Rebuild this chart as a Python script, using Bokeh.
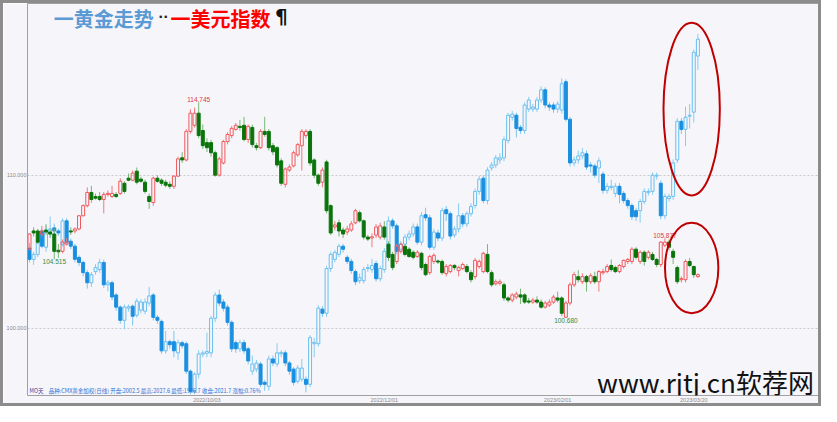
from bokeh.plotting import figure
from bokeh.models import Range1d, FixedTicker, Label, ColumnDataSource
from bokeh.embed import file_html
from bokeh.resources import INLINE
from bokeh.core.properties import value

# ---------------- data: US dollar index (daily OHLC) ----------------
usd_open = [105.17,106.36,106.36,106.16,106.42,106.29,106.16,105.10,105.03,105.50,
            106.36,106.36,106.49,107.35,108.01,108.87,108.60,108.61,108.41,108.74,
            108.61,108.74,108.81,109.47,109.80,109.67,110.26,109.74,109.54,108.61,
            108.21,109.80,109.67,109.54,109.40,109.27,109.93,111.13,110.99,112.85,
            113.25,114.04,112.91,112.12,112.12,111.46,110.00,110.79,112.19,112.58,
            112.98,113.18,113.25,112.32,113.11,111.92,111.79,112.85,112.85,111.92,
            111.79,110.93,109.40,110.33,110.60,111.32,111.92,112.58,112.85,110.99,
            110.00,109.54,110.86,108.01,106.62,106.89,106.42,106.29,106.42,106.89,
            107.55,107.02,105.96,105.90,106.09,105.96,106.62,105.50,104.83,104.37,
            105.03,105.36,105.17,104.97,104.70,104.90,104.17,103.64,104.37,104.40,
            104.37,103.58,103.71,104.11,103.77,103.91,104.04,103.64,103.38,104.04,
            103.71,104.83,103.64,102.91,102.95,102.85,101.99,101.85,102.05,102.19,
            102.19,101.79,101.72,101.85,101.72,101.39,101.52,101.72,101.99,101.99,
            100.73,101.66,102.85,103.38,103.05,103.38,103.05,103.38,103.05,103.64,
            103.71,104.11,103.97,103.71,104.04,104.37,104.37,105.17,104.37,104.97,
            104.64,104.83,104.50,104.17,105.43,105.63,105.03,103.97,103.18,103.18,
            104.37,104.04,103.38]
usd_high = [106.20,106.60,106.50,106.70,106.80,106.50,106.50,105.50,105.80,105.90,
            106.60,106.60,107.40,108.10,109.20,109.30,108.80,108.90,108.90,109.00,
            109.30,108.90,109.80,109.60,110.10,110.30,110.50,109.90,109.70,108.80,
            109.90,110.00,109.80,109.70,109.60,110.00,111.20,111.50,113.00,114.30,
            114.40,114.745,113.30,112.40,112.30,111.60,111.20,112.30,112.80,113.20,
            113.40,113.60,113.80,113.30,113.30,112.10,113.00,113.80,113.00,112.10,
            111.90,111.10,110.50,110.70,111.60,112.10,113.00,113.00,113.00,111.10,
            110.10,110.50,111.00,108.10,107.00,107.10,106.60,106.70,107.00,107.80,
            107.70,107.10,106.10,106.20,106.80,106.90,107.00,105.70,105.00,105.50,
            105.60,105.50,105.30,105.10,105.10,105.00,104.30,104.80,104.90,104.50,
            104.50,104.20,104.20,104.20,104.10,104.30,104.20,103.80,104.60,104.50,
            105.00,105.50,103.80,103.20,103.20,103.00,102.10,102.30,102.40,102.60,
            102.30,102.00,102.00,102.10,101.90,101.80,101.90,102.20,102.40,102.10,
            101.80,103.00,103.70,103.80,103.60,103.50,103.60,103.70,103.80,103.90,
            104.20,104.50,104.10,104.20,104.50,104.60,105.30,105.30,105.10,105.10,
            105.10,105.00,104.60,105.70,105.877,105.80,105.20,104.10,103.40,104.50,
            104.60,104.10,103.60]
usd_low = [105.10,106.00,105.50,106.00,106.10,105.90,104.515,104.60,104.90,105.40,
           106.10,106.20,106.40,107.30,107.90,108.20,108.40,108.30,107.50,108.60,
           108.50,108.50,108.70,108.80,109.60,109.60,109.40,109.50,108.80,107.80,
           108.00,109.50,109.30,109.20,109.10,109.10,109.90,110.80,110.90,112.70,
           113.10,112.40,111.70,111.50,111.20,109.90,109.90,110.70,112.00,112.40,
           112.90,112.90,112.20,112.10,111.80,111.60,111.70,112.50,111.60,111.30,
           110.50,109.30,109.20,110.20,110.50,111.20,110.30,112.40,110.60,109.80,
           109.30,109.20,107.50,106.10,106.40,106.00,105.90,106.10,106.30,106.80,
           106.90,105.80,105.70,105.30,105.90,105.80,105.80,104.40,103.80,104.20,
           104.90,104.70,104.60,104.50,104.60,103.80,103.40,103.50,104.20,104.20,
           103.50,103.40,103.60,103.80,103.40,103.80,103.60,103.00,103.20,103.90,
           103.60,103.60,102.70,102.80,102.80,101.80,101.70,101.70,101.90,101.60,
           101.60,101.60,101.60,101.60,101.30,101.30,101.40,101.60,101.70,100.80,
           100.68,101.50,102.70,103.00,102.90,102.40,102.90,102.90,102.40,103.50,
           103.60,103.70,103.60,103.60,103.90,104.20,104.20,104.50,104.20,104.10,
           104.50,104.40,104.00,104.00,105.30,105.10,104.20,102.90,103.00,103.00,
           104.00,103.30,103.30]
usd_close = [106.16,106.23,105.63,106.36,106.29,106.16,105.03,105.00,105.63,105.63,
             106.29,106.49,107.35,108.01,108.87,108.41,108.50,108.41,108.74,108.81,
             108.81,108.61,109.60,108.94,109.67,110.13,109.54,109.60,108.94,108.28,
             109.80,109.60,109.47,109.34,109.27,109.93,111.06,110.99,112.85,114.04,
             114.04,112.58,111.92,111.79,111.46,110.00,111.06,112.19,112.65,113.05,
             113.25,113.11,112.32,113.18,111.99,111.79,112.85,112.65,111.79,111.52,
             110.66,109.47,110.40,110.53,111.46,111.99,112.85,112.85,110.79,110.00,
             109.47,110.33,107.68,106.23,106.75,106.36,106.16,106.49,106.82,107.68,
             107.02,105.96,105.83,105.98,106.62,106.69,105.96,104.64,103.97,105.36,
             105.50,104.83,104.70,104.64,104.97,103.97,103.51,104.70,104.77,104.33,
             103.64,104.04,104.11,103.97,103.97,104.17,103.71,103.18,104.44,104.37,
             104.90,103.71,102.85,103.05,103.05,101.99,101.85,102.19,102.25,102.05,
             101.72,101.72,101.85,101.72,101.39,101.66,101.72,102.05,101.85,100.99,
             101.66,102.85,103.51,103.18,103.38,103.05,103.44,103.05,103.71,103.71,
             104.04,103.84,103.71,104.11,104.44,104.50,105.17,104.64,104.97,104.37,
             104.97,104.50,104.17,105.63,105.63,105.30,104.64,103.05,103.25,104.37,
             104.11,103.51,103.51]

# ---------------- data: gold (CMX weighted, daily OHLC) ----------------
gold_open = [1784.0,1771.3,1777.0,1803.6,1785.1,1800.1,1807.1,1803.6,1788.6,1815.1,
             1792.0,1786.3,1773.6,1767.8,1756.2,1744.7,1757.4,1759.7,1767.8,1742.4,
             1744.7,1730.8,1717.0,1702.0,1715.8,1718.1,1707.8,1713.5,1712.4,1721.6,
             1730.8,1705.4,1700.8,1667.3,1677.7,1677.7,1665.0,1676.6,1675.4,1644.2,
             1621.1,1640.8,1663.5,1664.5,1665.0,1704.3,1730.8,1722.8,1717.0,1699.7,
             1676.6,1669.6,1676.6,1669.6,1644.2,1646.5,1652.3,1631.5,1626.9,1658.1,
             1652.3,1664.0,1665.0,1653.5,1646.5,1632.7,1635.0,1635.0,1629.2,1675.4,
             1675.4,1714.7,1710.1,1760.9,1771.3,1777.0,1786.3,1773.6,1769.0,1757.4,
             1747.0,1747.0,1760.9,1759.7,1766.6,1749.3,1759.7,1773.6,1815.1,1809.4,
             1782.8,1788.6,1796.7,1800.1,1808.2,1790.9,1822.1,1818.6,1785.1,1801.3,
             1795.5,1827.8,1823.2,1799.0,1805.9,1820.9,1811.7,1823.2,1832.5,1848.6,
             1863.6,1838.2,1875.2,1878.6,1884.4,1886.7,1906.4,1932.9,1935.2,1921.4,
             1917.9,1942.2,1942.2,1942.2,1952.5,1964.1,1946.8,1946.8,1942.2,1941.0,
             1973.3,1930.6,1881.0,1884.4,1889.0,1891.3,1878.6,1877.5,1875.2,1868.3,
             1849.8,1853.0,1846.3,1854.4,1846.3,1838.2,1832.5,1826.7,1826.7,1837.1,
             1847.5,1848.6,1866.0,1857.9,1820.9,1840.5,1842.9,1884.4,1928.3,1919.1,
             1934.1,1938.7,2002.5]
gold_high = [1790.0,1780.0,1795.0,1806.0,1810.0,1820.0,1812.0,1806.0,1818.0,1818.0,
             1795.0,1789.0,1776.0,1770.0,1759.0,1757.0,1766.0,1772.0,1771.0,1748.0,
             1747.0,1733.0,1719.0,1720.0,1720.0,1720.0,1727.0,1726.0,1727.0,1740.0,
             1733.0,1708.0,1703.0,1690.0,1680.0,1690.0,1680.0,1679.0,1678.0,1646.0,
             1643.0,1668.0,1668.0,1688.0,1707.0,1734.0,1737.0,1726.0,1720.0,1702.0,
             1679.0,1680.0,1680.0,1672.0,1662.0,1657.0,1655.0,1634.0,1662.0,1662.0,
             1676.0,1668.0,1668.0,1656.0,1649.0,1651.0,1658.0,1638.0,1685.0,1682.0,
             1719.0,1718.0,1764.0,1780.0,1782.0,1789.0,1789.0,1776.0,1772.0,1760.0,
             1755.0,1763.0,1766.0,1772.0,1770.0,1764.0,1784.0,1820.0,1818.0,1812.0,
             1792.0,1800.0,1804.0,1812.0,1812.0,1825.0,1830.0,1822.0,1806.0,1805.0,
             1830.0,1832.0,1826.0,1809.0,1835.0,1824.0,1826.0,1835.0,1852.0,1866.0,
             1867.0,1876.0,1882.0,1890.0,1892.0,1911.0,1938.0,1940.0,1938.0,1924.0,
             1950.0,1956.0,1948.0,1956.0,1968.0,1967.0,1950.0,1950.0,1951.0,1977.0,
             1976.0,1933.0,1888.0,1895.0,1898.0,1895.0,1882.0,1880.0,1887.0,1871.0,
             1858.0,1862.0,1858.0,1858.0,1849.0,1841.0,1835.0,1830.0,1840.0,1852.0,
             1852.0,1870.0,1870.0,1861.0,1846.0,1846.0,1885.0,1932.0,1932.0,1945.0,
             1948.0,2010.0,2027.6]
gold_low = [1768.0,1765.0,1774.0,1784.0,1780.0,1797.0,1800.0,1798.0,1786.0,1788.0,
            1783.0,1768.0,1764.0,1752.0,1738.0,1740.0,1754.0,1756.0,1739.0,1735.0,
            1725.0,1713.0,1698.0,1692.0,1712.0,1696.0,1705.0,1710.0,1709.0,1718.0,
            1702.0,1698.0,1664.0,1664.0,1670.0,1660.0,1657.0,1670.0,1641.0,1618.0,
            1618.0,1636.0,1660.0,1660.0,1660.0,1700.0,1718.0,1712.0,1696.0,1666.0,
            1665.0,1666.0,1664.0,1652.0,1640.0,1643.0,1626.0,1622.0,1622.0,1650.0,
            1649.0,1660.0,1650.0,1640.0,1628.0,1630.0,1632.0,1620.0,1626.0,1660.0,
            1672.0,1706.0,1706.0,1757.0,1768.0,1774.0,1779.0,1766.0,1755.0,1742.0,
            1744.0,1744.0,1757.0,1756.0,1746.0,1746.0,1756.0,1770.0,1806.0,1777.0,
            1779.0,1785.0,1793.0,1797.0,1788.0,1787.0,1815.0,1782.0,1782.0,1792.0,
            1792.0,1815.0,1794.0,1796.0,1802.0,1808.0,1808.0,1820.0,1829.0,1845.0,
            1835.0,1834.0,1872.0,1875.0,1880.0,1883.0,1903.0,1929.0,1910.0,1914.0,
            1914.0,1939.0,1939.0,1939.0,1949.0,1943.0,1940.0,1938.0,1938.0,1937.0,
            1928.0,1877.0,1877.0,1880.0,1885.0,1873.0,1870.0,1864.0,1858.0,1846.0,
            1846.0,1850.0,1842.0,1835.0,1835.0,1829.0,1816.0,1815.0,1813.0,1834.0,
            1844.0,1845.0,1862.0,1817.0,1817.0,1837.0,1839.0,1881.0,1914.0,1900.0,
            1920.0,1927.0,1986.7]
gold_close = [1771.3,1777.0,1792.0,1786.3,1803.6,1805.9,1803.6,1801.3,1815.1,1790.9,
              1786.3,1771.3,1767.8,1756.2,1744.7,1753.9,1762.0,1767.8,1742.4,1744.7,
              1728.5,1717.0,1702.0,1717.0,1717.5,1706.6,1723.9,1722.8,1722.8,1729.7,
              1705.4,1702.0,1667.3,1677.7,1674.3,1667.3,1676.6,1673.1,1644.2,1621.1,
              1640.8,1663.9,1665.0,1666.5,1704.3,1730.8,1721.6,1715.8,1699.7,1669.6,
              1669.6,1676.6,1667.3,1655.8,1652.3,1653.5,1629.2,1629.2,1658.1,1653.5,
              1665.0,1665.5,1653.5,1644.2,1631.5,1647.7,1647.7,1629.2,1682.3,1677.0,
              1715.8,1710.1,1760.9,1777.0,1779.3,1786.3,1782.8,1769.0,1758.6,1745.9,
              1750.5,1759.7,1762.0,1764.3,1749.3,1760.9,1780.5,1815.1,1809.4,1780.5,
              1788.6,1796.7,1800.1,1808.2,1790.9,1820.9,1818.6,1785.1,1802.4,1795.5,
              1826.7,1823.2,1797.8,1805.9,1820.9,1811.7,1823.2,1831.3,1848.6,1862.5,
              1838.2,1872.9,1878.6,1886.7,1886.7,1907.5,1935.2,1936.4,1920.2,1917.9,
              1946.8,1952.5,1944.5,1952.5,1964.1,1946.8,1944.5,1942.2,1947.9,1971.0,
              1930.6,1881.0,1884.4,1889.0,1892.5,1876.3,1877.5,1867.1,1883.3,1849.8,
              1854.4,1854.4,1854.4,1845.2,1838.2,1832.5,1819.8,1819.8,1837.1,1848.6,
              1848.6,1867.1,1867.1,1820.9,1842.9,1842.9,1881.0,1928.3,1919.1,1932.9,
              1935.2,2006.8,2021.7]

# x-axis date labels (candle index -> date)
date_ticks = [43, 86, 128, 161]
date_labels = ["2022/10/03", "2022/12/01", "2023/02/01", "2023/03/20"]
# y grid / tick values (dollar index)
usd_ticks = [100, 110]
usd_tick_labels = ["100.000", "110.000"]
# marked highs / lows on the dollar index
mark_idx = [6, 41, 130, 154]
mark_kind = ["low", "high", "low", "high"]

# ---------------- styling / layout helpers ----------------
BG = "#f5f5fa"
PX_PER_BAR = 4.1
X0 = 28.0               # picture x of candle 0
USD_PX = 15.1           # px per dollar-index point
GOLD_PX = 0.866         # px per gold dollar
def sx(px):             # picture x -> index units (annotation placement only)
    return (px - X0) / PX_PER_BAR
def sy(py):             # picture y -> dollar-index units (annotation placement only)
    return 110 - (py - 172) / USD_PX
def gy(py):             # picture y -> gold units (range placement only)
    return 2027.6 - (py - 33) / GOLD_PX

FRAME_BOTTOM = 389
p = figure(width=815, height=400, output_backend="svg", toolbar_location=None,
           x_range=Range1d(sx(26), sx(818)), y_range=Range1d(sy(FRAME_BOTTOM), sy(3)),
           min_border_left=23, min_border_right=0,
           min_border_top=0, min_border_bottom=400 - (FRAME_BOTTOM - 3),
           background_fill_color=BG, border_fill_color=BG)
p.styles = {"border": "3px solid #8c8c8c", "box-sizing": "content-box"}
p.extra_y_ranges = {"gold": Range1d(gy(FRAME_BOTTOM), gy(3))}
p.outline_line_color = "#a0a0a0"
p.outline_line_width = 1
p.xgrid.visible = False

yt = FixedTicker(ticks=usd_ticks)
ay = p.yaxis[0]
ay.ticker = yt
ay.major_label_overrides = {t: l for t, l in zip(usd_ticks, usd_tick_labels)}
ay.major_label_text_font = "Liberation Sans"
ay.major_label_text_font_size = "5.5px"
ay.major_label_text_color = "#8a8a8a"
ay.major_label_standoff = 1
ay.major_tick_out = 0
ay.major_tick_in = 0
ay.minor_tick_out = 0
ay.minor_tick_in = 0
ay.axis_line_color = None
ay.major_tick_line_color = None
ay.minor_tick_line_color = None
p.ygrid.ticker = yt
p.ygrid.grid_line_color = "#c9c9c9"
p.ygrid.grid_line_dash = "2 2"

ax = p.xaxis[0]
ax.ticker = FixedTicker(ticks=date_ticks)
ax.major_label_overrides = {t: l for t, l in zip(date_ticks, date_labels)}
ax.major_label_text_font = "Liberation Sans"
ax.major_label_text_font_size = "5.5px"
ax.major_label_text_color = "#8a8a8a"
ax.major_label_standoff = 1
ax.major_tick_out = 0
ax.major_tick_in = 0
ax.minor_tick_out = 0
ax.minor_tick_in = 0
ax.axis_line_color = None
ax.major_tick_line_color = None
ax.minor_tick_line_color = None

def candles(o, h, l, c, up_line, up_wick, dn_fill, dn_wick, y_range_name="default"):
    up = dict(x=[], top=[], bot=[], hi=[], lo=[])
    dn = dict(x=[], top=[], bot=[], hi=[], lo=[])
    for i, (oo, hh, ll, cc) in enumerate(zip(o, h, l, c)):
        d = up if cc >= oo else dn
        d["x"].append(i)
        d["top"].append(max(oo, cc))
        d["bot"].append(min(oo, cc))
        d["hi"].append(hh)
        d["lo"].append(ll)
    su, sd = ColumnDataSource(up), ColumnDataSource(dn)
    for s, wc in ((su, up_wick), (sd, dn_wick)):
        p.segment(x0="x", x1="x", y0="hi", y1="top", source=s, line_color=wc,
                  line_width=1, y_range_name=y_range_name)
        p.segment(x0="x", x1="x", y0="bot", y1="lo", source=s, line_color=wc,
                  line_width=1, y_range_name=y_range_name)
    p.vbar(x="x", width=0.72, top="top", bottom="bot", source=su,
           fill_color=None, line_color=up_line, line_width=1, y_range_name=y_range_name)
    p.vbar(x="x", width=0.72, top="top", bottom="bot", source=sd,
           fill_color=dn_fill, line_color=dn_fill, line_width=1, y_range_name=y_range_name)

candles(gold_open, gold_high, gold_low, gold_close,
        "#69c0ef", "#86cdf2", "#1a8fe0", "#7cc6f0", y_range_name="gold")
candles(usd_open, usd_high, usd_low, usd_close,
        "#f0595c", "#f27b7d", "#0a740a", "#78b878")

# high / low markers on the dollar index
for i, k in zip(mark_idx, mark_kind):
    if k == "high":
        p.text(x=[i], y=[usd_high[i]], text=["%.3f" % usd_high[i]], text_align="center",
               text_baseline="bottom", text_font=value("Liberation Sans"),
               text_font_size="6.5px", text_color="#e03a3e")
    else:
        p.text(x=[i], y=[usd_low[i]], text=["%.3f" % usd_low[i]], text_align="center",
               text_baseline="top", text_font=value("Liberation Sans"),
               text_font_size="6.5px", text_color="#3a8a3a")

# red highlight ellipses
p.ellipse(x=[sx(686)], y=[sy(107)], width=[56 / PX_PER_BAR], height=[170 / USD_PX],
          fill_color=None, line_color="#c00000", line_width=2)
p.ellipse(x=[sx(686)], y=[sy(263.5)], width=[53 / PX_PER_BAR], height=[89 / USD_PX],
          fill_color=None, line_color="#c00000", line_width=2)

# title
title_parts = [("一黄金走势", 52, "#5b9bd5", "20px", "Noto Sans CJK SC", "top", 3),
               ("··", 156, "#222222", "13px", "DejaVu Sans", "middle", 16),
               ("一美元指数", 168, "#ff0000", "20px", "Noto Sans CJK SC", "top", 3),
               ("¶", 272, "#111111", "20px", "DejaVu Sans", "top", 3)]
for txt, px, col, fs, fnt, bl, py in title_parts:
    p.add_layout(Label(x=sx(px), y=sy(py), text=txt, text_baseline=bl,
                       text_font=fnt, text_font_size=fs,
                       text_font_style="bold", text_color=col))

# info line
p.add_layout(Label(x=sx(28), y=sy(385), text="MO天", text_baseline="middle",
                   text_font="Noto Sans CJK SC", text_font_size="5.5px", text_color="#4b3a9a"))
p.add_layout(Label(x=sx(47), y=sy(385),
                   text="品种:CMX黄金加权(日线)   开盘:2002.5  最高:2027.6  最低:1986.7  收盘:2021.7  涨幅:0.76%",
                   text_baseline="middle", text_font="Noto Sans CJK SC",
                   text_font_size="5.5px", text_color="#2f6fd6"))

# watermark
p.add_layout(Label(x=sx(592), y=sy(375), text="www.rjtj.cn软荐网", text_baseline="middle",
                   text_font="Noto Sans CJK SC", text_font_size="26px", text_color="#111111"))

open("out.html", "w").write(file_html(p, INLINE))
